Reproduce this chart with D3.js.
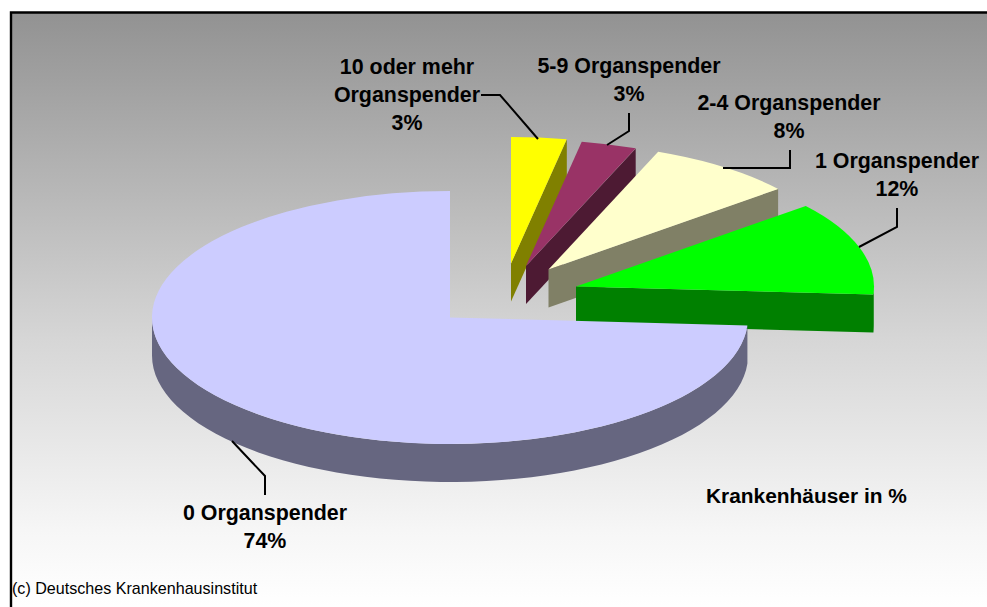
<!DOCTYPE html>
<html><head><meta charset="utf-8">
<script src="https://cdn.jsdelivr.net/npm/d3@7"></script>
<style>html,body{margin:0;padding:0;background:#fff}svg{display:block}text{font-family:"Liberation Sans",Arial,sans-serif;fill:#000}</style>
</head><body><div id="c"></div>
<script>
// data, clockwise from 12 o'clock
const categories = ["10 oder mehr Organspender","5-9 Organspender","2-4 Organspender","1 Organspender","0 Organspender"];
const values = [3,3,8,12,74];
const topColors = ["#ffff00","#993366","#ffffcc","#00ff00","#ccccff"];
const sideColors = ["#808000","#4d1a33","#808066","#008000","#666680"];
const labelLines = [["10 oder mehr","Organspender"],["5-9 Organspender"],["2-4 Organspender"],["1 Organspender"],["0 Organspender"]];
const chartTitle = "Krankenhäuser in %";
const credit = "(c) Deutsches Krankenhausinstitut";

// layout
const W=987,H=607, cx=450, cy=317.5, rx=298, ry=126.5, depth=38;
const explode=[[61,-54],[76,-51.5],[98.5,-48],[126,-31],[0,0]];
const labelPos=[[407,74],[629,73],[789,110],[897,168],[265,520]];
const leaders=[[[481,95],[500,95],[538,139]],[[629,113],[629,131],[607,145]],[[790,150],[790,168],[723,168]],[[897,208],[897,227],[859,247]],[[232,441],[265,476],[265,495]]];

const svg=d3.select("#c").append("svg").attr("width",W).attr("height",H);
const grad=svg.append("defs").append("linearGradient").attr("id","bg").attr("x1",0).attr("x2",0).attr("y1",0).attr("y2",1);
[[0,"#929292"],[0.55,"#d6d6d6"],[0.87,"#f6f6f6"],[1,"#ffffff"]].forEach(s=>grad.append("stop").attr("offset",s[0]).attr("stop-color",s[1]));
svg.append("rect").attr("x",11).attr("y",12).attr("width",W-11).attr("height",H-12).attr("fill","url(#bg)");
svg.append("path").attr("d",d3.line()([[11,H],[11,12.5],[W,12.5]])).attr("fill","none").attr("stroke","#000").attr("stroke-width",2.4);

const arcs=d3.pie().sort(null).value(d=>d)(values);
const unit=d3.arc().innerRadius(0).outerRadius(1);
const px=a=>rx*Math.sin(a), py=a=>-ry*Math.cos(a);

const order=[0,1,2,3,4];
order.forEach(i=>{
  const a=arcs[i],[dx,dy]=explode[i];
  const g=svg.append("g").attr("transform",`translate(${cx+dx},${cy+dy})`);
  // outer wall (only the near half of the rim shows)
  const s=Math.max(a.startAngle,Math.PI/2), e=Math.min(a.endAngle,3*Math.PI/2);
  if(e>s){
    const pts=d3.range(0,61).map(k=>s+(e-s)*k/60);
    const line=d3.line();
    const ring=pts.map(t=>[px(t),py(t)]).concat(pts.slice().reverse().map(t=>[px(t),py(t)+depth]));
    g.append("path").attr("d",line(ring)+"Z").attr("fill",sideColors[i]);
  }
  // cut face on the trailing edge
  if(a.endAngle<Math.PI){
    const t=a.endAngle;
    g.append("path").attr("d",d3.line()([[0,0],[px(t),py(t)],[px(t),py(t)+depth],[0,depth]])+"Z").attr("fill",sideColors[i]);
  }
  // top surface
  g.append("path").attr("transform",`scale(${rx},${ry})`).attr("d",unit(a)).attr("fill",topColors[i]);
});

// leaders
const ln=d3.line();
leaders.forEach(p=>svg.append("path").attr("d",ln(p)).attr("fill","none").attr("stroke","#000").attr("stroke-width",2));

// labels
categories.forEach((c,i)=>{
  const [x,y]=labelPos[i];
  const t=svg.append("text").attr("text-anchor","middle").attr("font-size",21.4).attr("font-weight","bold");
  labelLines[i].concat([values[i]+"%"]).forEach((s,k)=>t.append("tspan").attr("x",x).attr("y",y+k*27.8).text(s));
});
svg.append("text").attr("x",706).attr("y",503).attr("font-size",20.9).attr("font-weight","bold").text(chartTitle);
svg.append("text").attr("x",12).attr("y",594).attr("font-size",16.1).text(credit);
</script></body></html>
